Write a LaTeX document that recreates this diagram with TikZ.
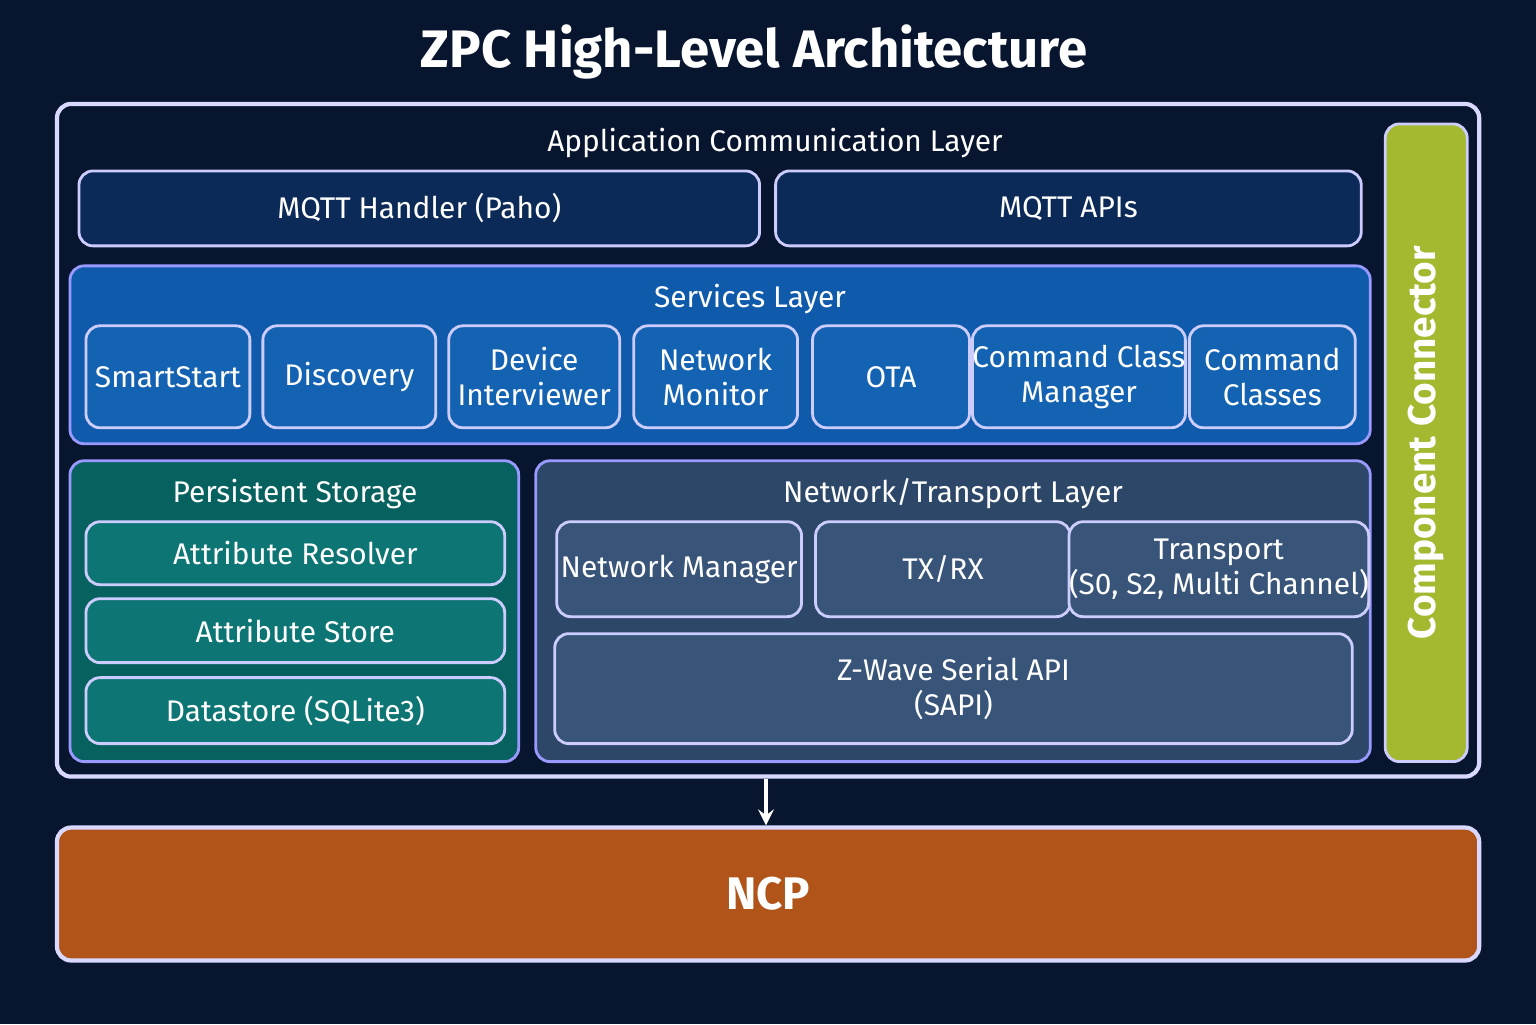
\documentclass[tikz,border=0pt]{standalone}
\usepackage{fontspec}
\setmainfont{Fira Sans}
\usetikzlibrary{positioning,calc}
\definecolor{bgnavy}{HTML}{07152E}
\definecolor{appblue}{HTML}{0C2A58}
\definecolor{svcblue}{HTML}{0F5AAA}
\definecolor{svcbox}{HTML}{1462B2}
\definecolor{storteal}{HTML}{07625F}
\definecolor{storbox}{HTML}{0D7674}
\definecolor{netslate}{HTML}{2D4768}
\definecolor{netbox}{HTML}{385478}
\definecolor{connlime}{HTML}{A4B830}
\definecolor{ncporange}{HTML}{B0541A}
\newcommand{\pbox}[7]{% name, x1, y1, x2, y2, style, text
  \node[#6, minimum width={(#4-#2)*0.01cm}, minimum height={(#5-#3)*0.01cm}]
    (#1) at ({(#2+#4)/2*0.01},{-(#3+#5)/2*0.01}) {#7};}
\begin{document}
\begin{tikzpicture}[>=stealth, line join=round,
  panel/.style={draw=white!85!blue, line width=1.2pt, rounded corners=4pt, inner sep=0pt},
  layer/.style={draw=white!60!blue, line width=0.8pt, rounded corners=4pt, inner sep=0pt},
  item/.style={draw=white!80!blue, line width=0.8pt, rounded corners=4pt, inner sep=0pt,
    text=white, font=\fontsize{8.5}{10}\selectfont, align=center},
  head/.style={text=white, font=\fontsize{8.5}{10}\selectfont}]
\fill[bgnavy] (0,0) rectangle (15.36,-10.24);
\useasboundingbox (0,0) rectangle (15.36,-10.24);

\node[text=white, font=\bfseries\fontsize{15}{17}\selectfont] (title) at (7.54,-0.52) {ZPC High-Level Architecture};

% outer frame
\pbox{zpc}{57}{104}{1480}{777}{panel, fill=bgnavy}{}

% application communication layer
\node[head] (applbl) at (7.75,-1.43) {Application Communication Layer};
\pbox{mqtth}{79}{171}{760}{246}{item, fill=appblue}{MQTT Handler (Paho)}
\pbox{mqtta}{776}{171}{1362}{246}{item, fill=appblue}{MQTT APIs}

% services layer
\pbox{svc}{70}{266}{1371}{444}{layer, fill=svcblue}{}
\node[head] (svclbl) at (7.5,-2.99) {Services Layer};
\pbox{ss}{86}{326}{250}{428}{item, fill=svcbox}{SmartStart}
\pbox{disc}{263}{326}{436}{428}{item, fill=svcbox}{Discovery}
\pbox{devi}{449}{326}{620}{428}{item, fill=svcbox}{Device\\Interviewer}
\pbox{netm}{634}{326}{798}{428}{item, fill=svcbox}{Network\\Monitor}
\pbox{ota}{813}{326}{970}{428}{item, fill=svcbox}{OTA}
\pbox{ccm}{982}{326}{1177}{428}{item, fill=svcbox}{Command Class\\Manager}
\pbox{cc}{1190}{326}{1356}{428}{item, fill=svcbox}{Command\\Classes}

% persistent storage
\pbox{stor}{70}{461}{519}{762}{layer, fill=storteal}{}
\node[head] (storlbl) at (2.95,-4.94) {Persistent Storage};
\pbox{ares}{86}{522}{505}{585}{item, fill=storbox}{Attribute Resolver}
\pbox{asto}{86}{599}{505}{663}{item, fill=storbox}{Attribute Store}
\pbox{dsto}{86}{678}{505}{744}{item, fill=storbox}{Datastore (SQLite3)}

% network / transport layer
\pbox{net}{536}{461}{1371}{762}{layer, fill=netslate}{}
\node[head] (netlbl) at (9.53,-4.94) {Network/Transport Layer};
\pbox{nmgr}{557}{522}{802}{617}{item, fill=netbox}{Network Manager}
\pbox{txrx}{816}{522}{1071}{617}{item, fill=netbox}{TX/RX}
\pbox{trsp}{1086}{522}{1353}{617}{item, fill=netbox}{Transport\\(S0, S2, Multi Channel)}
\pbox{sapi}{555}{634}{1353}{744}{item, fill=netbox}{Z-Wave Serial API\\(SAPI)}

% component connector
\pbox{conn}{1386}{124}{1468}{762}{item, fill=connlime}{}
\node[text=white, font=\bfseries\fontsize{11}{13}\selectfont, rotate=90] (connlbl) at (conn.center) {Component Connector};

% NCP
\pbox{ncp}{57}{828}{1480}{961}{panel, fill=ncporange}{}
\node[text=white, font=\bfseries\fontsize{13}{15}\selectfont] (ncplbl) at (ncp.center) {NCP};

\draw[->, white, line width=1pt] (zpc.south -| 7.66,0) -- (ncp.north -| 7.66,0);
\end{tikzpicture}
\end{document}
